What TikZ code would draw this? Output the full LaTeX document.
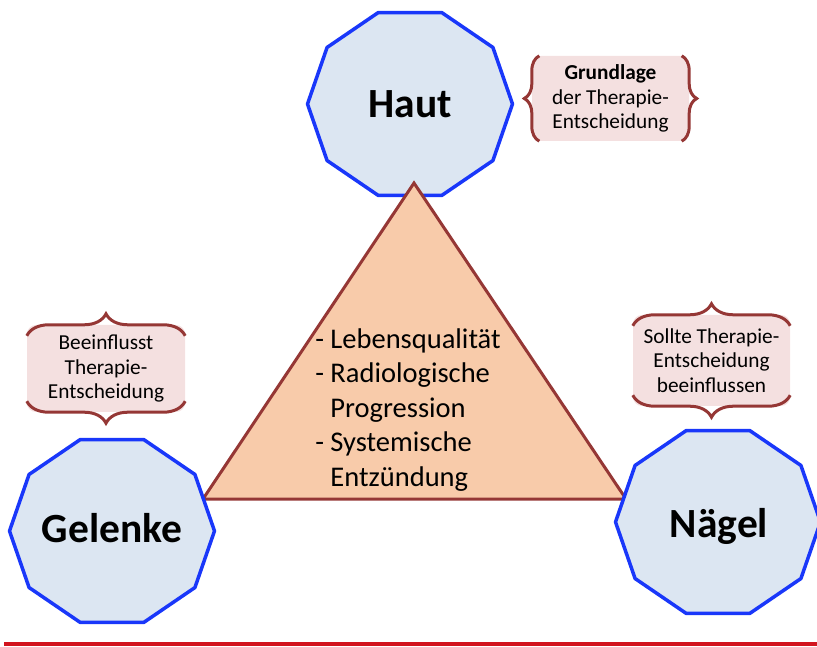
\documentclass[tikz,border=0pt]{standalone}
\usepackage{fontspec}
\setmainfont{Carlito}
\usetikzlibrary{decorations.pathreplacing}
\definecolor{decablue}{RGB}{25,55,250}
\definecolor{decafill}{RGB}{220,230,242}
\definecolor{trifill}{RGB}{248,203,170}
\definecolor{darkred}{RGB}{149,55,53}
\definecolor{boxpink}{RGB}{244,224,224}
\definecolor{linered}{RGB}{210,20,30}
\begin{document}
\begin{tikzpicture}[x=1pt, y=1pt]
            \tikzstyle{deca}=[draw=decablue, fill=decafill, line width=3.5pt, line join=round]
            \tikzstyle{tri}=[draw=darkred, fill=trifill, line width=3pt, line join=miter]
            \tikzstyle{organ}=[font=\fontsize{41.5}{49}\selectfont\bfseries, inner sep=0pt, anchor=base]
            \tikzstyle{tritext}=[font=\fontsize{28.5}{34.5}\selectfont, align=left, inner sep=0pt]
            \tikzstyle{bracebox}=[fill=boxpink, rounded corners=9pt, align=center, inner sep=0pt, font=\fontsize{21.3}{24.5}\selectfont]
            \tikzstyle{bracepen}=[draw=darkred, line width=3pt, decorate]
            \useasboundingbox (0,0) rectangle (817,646);
            % corners and centres
            \coordinate (haut) at (410,542);
            \coordinate (gelenke) at (112,115);
            \coordinate (naegel) at (718,124);
            \coordinate (apex) at (414,463);
            \coordinate (baseleft) at (203,147);
            \coordinate (baseright) at (626,147);
            \coordinate (footleft) at (4,2);
            \coordinate (footright) at (817,2);
            % decagons and triangle
            \draw[deca, shift={(haut)}] (0:102.5 and 96.2)
            \foreach \a in {36,72,...,324} { -- (\a:102.5 and 96.2) } -- cycle;
            \draw[tri] (apex) -- (baseleft) -- (baseright) -- cycle;
            \foreach \c in {gelenke,naegel} {
            \draw[deca, shift={(\c)}] (0:102.5 and 96.2)
            \foreach \a in {36,72,...,324} { -- (\a:102.5 and 96.2) } -- cycle;
            }
            \node[organ] (hautlbl) at (410,528) {Haut};
            \node[organ] (gelenkelbl) at (112,104) {Gelenke};
            \node[organ] (naegellbl) at (719,109) {Nägel};
            \node[tritext] (kriterien) at (408,236) {- Lebensqualität\\
            - Radiologische\\
            \hspace*{0.532em}Progression\\
            - Systemische\\
            \hspace*{0.532em}Entzündung};
            % brace boxes
            \node[bracebox, minimum width=157pt, minimum height=85pt] (grundlage) at (610.5,547.5)
            {\textbf{Grundlage}\\der Therapie-\\Entscheidung};
            \draw[bracepen, decoration={brace, amplitude=15pt}]
            ([xshift=7.5pt]grundlage.south west) -- ([xshift=7.5pt]grundlage.north west);
            \draw[bracepen, decoration={brace, amplitude=15pt}]
            ([xshift=-7.5pt]grundlage.north east) -- ([xshift=-7.5pt]grundlage.south east);
            \node[bracebox, minimum width=158pt, minimum height=87pt] (beeinflusst) at (106,277.5)
            {Beeinflusst\\Therapie-\\Entscheidung};
            \draw[bracepen, decoration={brace, amplitude=22pt}]
            ([yshift=-11pt]beeinflusst.north west) -- ([yshift=-11pt]beeinflusst.north east);
            \draw[bracepen, decoration={brace, amplitude=22pt}]
            ([yshift=11pt]beeinflusst.south east) -- ([yshift=11pt]beeinflusst.south west);
            \node[bracebox, minimum width=157pt, minimum height=91pt] (sollte) at (711.5,285.5)
            {Sollte Therapie-\\Entscheidung\\beeinflussen};
            \draw[bracepen, decoration={brace, amplitude=22pt}]
            ([yshift=-11pt]sollte.north west) -- ([yshift=-11pt]sollte.north east);
            \draw[bracepen, decoration={brace, amplitude=22pt}]
            ([yshift=11pt]sollte.south east) -- ([yshift=11pt]sollte.south west);
            \draw[draw=linered, line width=3.5pt] (footleft) -- (footright);
        \end{tikzpicture}
\end{document}
